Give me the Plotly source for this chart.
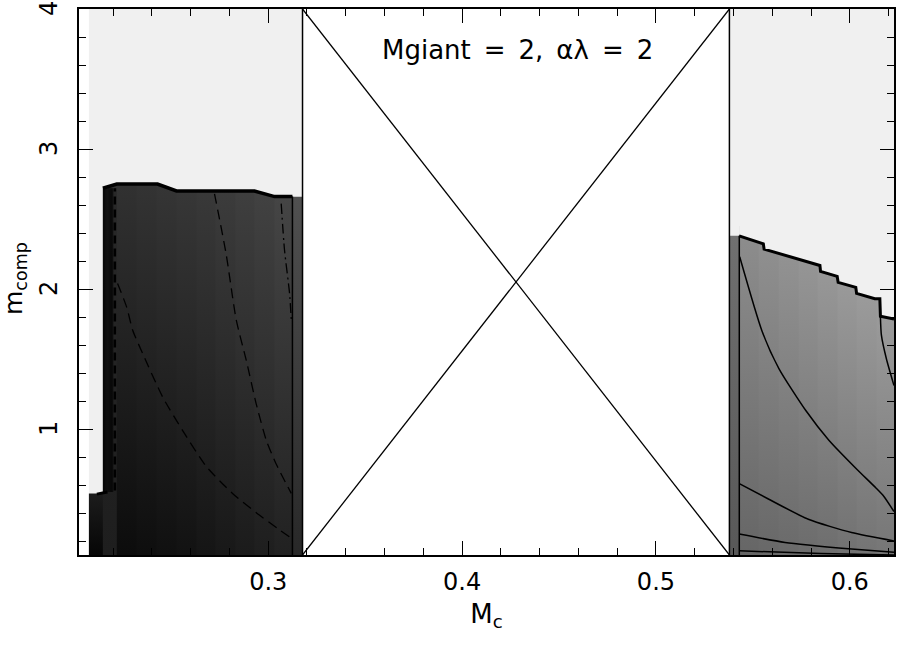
import plotly.graph_objects as go

# zones along M_c
left_zone = [0.2075, 0.3177]
gap_zone = [0.3177, 0.5379]
right_zone = [0.5379, 0.6228]
y_floor, y_ceil = 0.1, 4.0

# left block (dark), column edges and grey levels (top / bottom of each column)
left_edges = [0.2171, 0.2321, 0.2424, 0.2527, 0.2630, 0.2728, 0.2831, 0.2929, 0.3032, 0.3125]
left_top_grey = [50, 52, 54, 56, 58, 61, 64, 67, 71]
left_bot_grey = [12, 14, 16, 18, 21, 24, 27, 30, 33]
left_step = dict(x=[0.2075, 0.2171], top=0.54, grey=(28, 6))
left_tail = dict(x=[0.3125, 0.3177], top=2.66, grey=(80, 40))
left_edge_x = [0.2147, 0.2219, 0.2429, 0.2527, 0.2929, 0.3033, 0.3125]
left_edge_y = [2.72, 2.75, 2.75, 2.70, 2.70, 2.66, 2.66]
hatch_x = [0.2150, 0.2156, 0.2162, 0.2168, 0.2174, 0.2180, 0.2186, 0.2192, 0.2198]
hatch_lo = 0.55

# dashed contours in left block
dash1_x = [0.2223, 0.2270, 0.2301, 0.2352, 0.2455, 0.2558, 0.2682, 0.2816, 0.2940, 0.3058, 0.3120]
dash1_y = [2.04, 1.87, 1.705, 1.54, 1.23, 0.99, 0.73, 0.54, 0.40, 0.28, 0.22]
dash2_x = [0.2723, 0.2783, 0.2835, 0.2887, 0.2938, 0.2990, 0.3041, 0.3119]
dash2_y = [2.68, 2.25, 1.78, 1.49, 1.18, 0.92, 0.75, 0.54]
dash3_x = [0.3067, 0.3084, 0.3110, 0.3119]
dash3_y = [2.61, 2.28, 1.97, 1.78]

# right block (grey)
right_edges = [0.5430, 0.5530, 0.5633, 0.5736, 0.5834, 0.5937, 0.6035, 0.6138, 0.6228]
right_top_grey = [142, 146, 150, 154, 158, 162, 165, 168]
right_bot_grey = [102, 104, 106, 108, 110, 113, 116, 118]
right_strip = dict(x=[0.5379, 0.5430], top=2.38, grey=(112, 88))
right_edge_x = [0.5429, 0.5554, 0.5558, 0.5846, 0.5849, 0.5935, 0.5940, 0.6031, 0.6035,
                0.6129, 0.6155, 0.6158, 0.6228]
right_edge_y = [2.38, 2.323, 2.285, 2.168, 2.126, 2.090, 2.047, 2.012, 1.969, 1.931, 1.931,
                1.805, 1.786]

# solid contours in right block
cont1_x = [0.5432, 0.5547, 0.5635, 0.5774, 0.5892, 0.6031, 0.6134, 0.6175, 0.6228]
cont1_y = [2.23, 1.70, 1.43, 1.13, 0.92, 0.72, 0.58, 0.52, 0.41]
cont2_x = [0.5430, 0.5580, 0.5786, 0.6009, 0.6228]
cont2_y = [0.61, 0.50, 0.355, 0.26, 0.20]
cont3_x = [0.5430, 0.5666, 0.6009, 0.6228]
cont3_y = [0.25, 0.19, 0.143, 0.119]
cont4_x = [0.5430, 0.5850, 0.6228]
cont4_y = [0.13, 0.11, 0.10]
cont5_x = [0.6158, 0.6163, 0.6189, 0.6228]
cont5_y = [1.80, 1.67, 1.50, 1.31]

x_ticks = [0.3, 0.4, 0.5, 0.6]
x_labels = ["0.3", "0.4", "0.5", "0.6"]
y_ticks = [1, 2, 3, 4]
y_labels = ["1", "2", "3", "4"]
title_text = "Mgiant\u2002=\u20022,\u2002αλ\u2002=\u20022"

pale = "#f0f0f0"
font = "DejaVu Sans"


def grey(v):
    return "rgb({0},{0},{0})".format(v)


def block(x0, x1, top, g_top, g_bot):
    return go.Scatter(
        x=[x0, x1, x1, x0, x0], y=[y_floor, y_floor, top, top, y_floor],
        mode="lines", line=dict(width=0), fill="toself",
        fillgradient=dict(type="vertical", start=y_floor, stop=top,
                          colorscale=[[0, grey(g_bot)], [1, grey(g_top)]]),
        hoverinfo="skip", showlegend=False)


def curve(x, y, width=1.4, dash="solid", smooth=False):
    line = dict(color="black", width=width, dash=dash)
    if smooth:
        line.update(shape="spline", smoothing=0.6)
    return go.Scatter(x=x, y=y, mode="lines", line=line, hoverinfo="skip", showlegend=False)


fig = go.Figure()

# pale zones
for zone in (left_zone, right_zone):
    fig.add_shape(type="rect", x0=zone[0], x1=zone[1], y0=y_floor, y1=y_ceil,
                  fillcolor=pale, line_width=0, layer="below")

# left block columns (each one runs to the block's right end, so no seams)
for i in range(len(left_top_grey)):
    fig.add_trace(block(left_edges[i], left_edges[-1], 2.8, left_top_grey[i], left_bot_grey[i]))
fig.add_trace(block(left_step["x"][0], left_step["x"][1], left_step["top"], *left_step["grey"]))
fig.add_trace(block(left_tail["x"][0], left_tail["x"][1], left_tail["top"], *left_tail["grey"]))
# hatch strip
fig.add_trace(block(hatch_x[0] - 0.0003, left_edge_x[1], left_edge_y[0], 40, 30))
# mask above the edge
fig.add_trace(go.Scatter(
    x=[left_edge_x[0]] + left_edge_x + [left_tail["x"][1], left_tail["x"][1]],
    y=[y_ceil] + left_edge_y + [left_tail["top"], y_ceil],
    mode="lines", line=dict(width=0), fill="toself", fillcolor=pale,
    hoverinfo="skip", showlegend=False))
for hx in hatch_x:
    fig.add_trace(curve([hx, hx], [hatch_lo, left_edge_y[0]], width=0.8))
fig.add_trace(curve([0.2209, 0.2209], [0.56, 2.72], width=2.5, dash="8px,5px"))
fig.add_trace(curve([0.2116, left_step["x"][1]], [0.535, 0.55], width=3))
fig.add_trace(curve(left_edge_x, left_edge_y, width=3.5))
fig.add_trace(curve([left_edges[-1], left_edges[-1]], [y_floor, left_edge_y[-1]], width=1.5))
fig.add_trace(curve(dash1_x, dash1_y, width=1.3, dash="10px,6px", smooth=True))
fig.add_trace(curve(dash2_x, dash2_y, width=1.3, dash="10px,6px", smooth=True))
fig.add_trace(curve(dash3_x, dash3_y, width=1.3, dash="10px,4px,2px,4px", smooth=True))

# right block columns
for i in range(len(right_top_grey)):
    fig.add_trace(block(right_edges[i], right_edges[-1], 2.45, right_top_grey[i], right_bot_grey[i]))
fig.add_trace(block(right_strip["x"][0], right_strip["x"][1], right_strip["top"], *right_strip["grey"]))
fig.add_trace(go.Scatter(
    x=[right_edge_x[0]] + right_edge_x + [right_zone[1]],
    y=[y_ceil] + right_edge_y + [y_ceil],
    mode="lines", line=dict(width=0), fill="toself", fillcolor=pale,
    hoverinfo="skip", showlegend=False))
fig.add_trace(curve(right_edge_x, right_edge_y, width=3))
fig.add_trace(curve([right_edges[0], right_edges[0]], [y_floor, right_edge_y[0]], width=1.5))
for cx, cy in ((cont1_x, cont1_y), (cont2_x, cont2_y), (cont3_x, cont3_y),
               (cont4_x, cont4_y), (cont5_x, cont5_y)):
    fig.add_trace(curve(cx, cy, width=1.5, smooth=True))

# crossed empty box
fig.add_trace(curve([gap_zone[0], gap_zone[1]], [y_ceil, y_floor], width=1.3))
fig.add_trace(curve([gap_zone[0], gap_zone[1]], [y_floor, y_ceil], width=1.3))
for gx in gap_zone:
    fig.add_trace(curve([gx, gx], [y_floor, y_ceil], width=1.5))

fig.add_annotation(x=0.4285, y=3.706, text=title_text, showarrow=False,
                   font=dict(family=font, size=26, color="black"))

# rotated y tick labels and y title
for v, lab in zip(y_ticks, y_labels):
    fig.add_annotation(x=0, xref="paper", y=v, yref="y", text=lab, textangle=-90,
                       showarrow=False, xanchor="center", yanchor="middle", xshift=-30,
                       font=dict(family=font, size=24, color="black"))
fig.add_annotation(x=0, xref="paper", y=0.5, yref="paper", text="m<sub>comp</sub>",
                   textangle=-90, showarrow=False, xanchor="center", yanchor="middle",
                   xshift=-64, yshift=3, font=dict(family=font, size=25, color="black"))

axis_common = dict(showline=True, linecolor="black", linewidth=1.5, mirror="allticks",
                   ticks="inside", ticklen=14, tickwidth=1.3, tickcolor="black",
                   showgrid=False, zeroline=False,
                   tickfont=dict(family=font, size=24, color="black"))

fig.update_layout(
    width=897, height=661,
    margin=dict(l=79, r=1, t=9, b=106),
    plot_bgcolor="white", paper_bgcolor="white",
    xaxis=dict(range=[0.2024, 0.6228], tickvals=x_ticks, ticktext=x_labels,
               ticklabelstandoff=4,
               minor=dict(ticks="inside", ticklen=7, dtick=0.02, tick0=0.2,
                          tickcolor="black", tickwidth=1.2),
               title=dict(text="M<sub>c</sub>", standoff=10,
                          font=dict(family=font, size=26, color="black")),
               **axis_common),
    yaxis=dict(range=[y_floor, y_ceil], tickvals=y_ticks, showticklabels=False,
               minor=dict(ticks="inside", ticklen=7, dtick=0.2, tick0=0,
                          tickcolor="black", tickwidth=1.2),
               **axis_common),
)

fig.write_html("out.html", config={"displayModeBar": False},
               post_script="document.body.style.margin='0px';")
